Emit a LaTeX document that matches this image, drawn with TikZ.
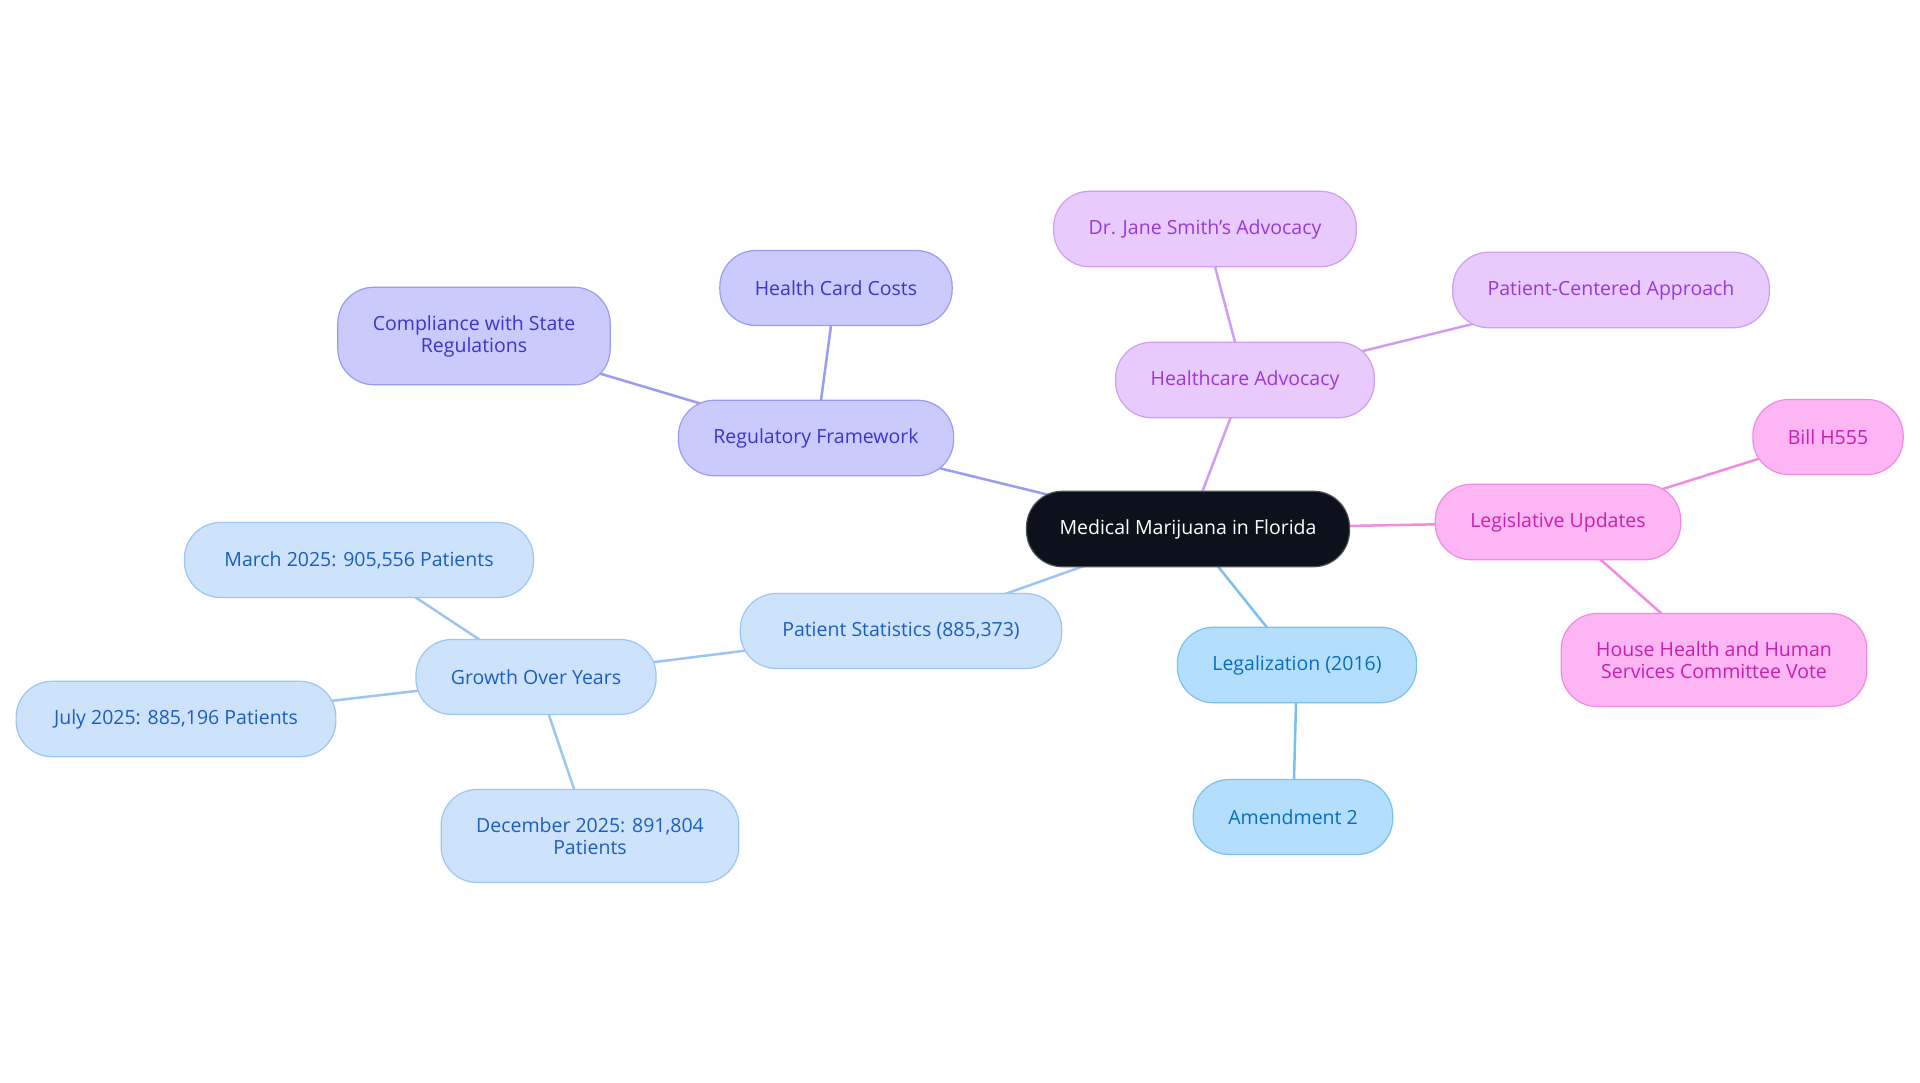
\documentclass[tikz,border=0pt]{standalone}
\usepackage{fontspec}
\setmainfont{Open Sans}
\usetikzlibrary{positioning, backgrounds}

% colours per branch
\definecolor{rootfill}{HTML}{0C111B}
\definecolor{rootdraw}{HTML}{4A4F58}
\definecolor{regfill}{HTML}{CACAFD}
\definecolor{regdraw}{HTML}{9B9BF2}
\definecolor{regtext}{HTML}{3B35C9}
\definecolor{advfill}{HTML}{E8CAFD}
\definecolor{advdraw}{HTML}{CF9DF2}
\definecolor{advtext}{HTML}{9A37D8}
\definecolor{legfill}{HTML}{FDB5F3}
\definecolor{legdraw}{HTML}{F08BE0}
\definecolor{legtext}{HTML}{C81FAE}
\definecolor{lglfill}{HTML}{B3DFFD}
\definecolor{lgldraw}{HTML}{7BBFEE}
\definecolor{lgltext}{HTML}{0A6CC0}
\definecolor{patfill}{HTML}{CDE3FB}
\definecolor{patdraw}{HTML}{9CC5F2}
\definecolor{pattext}{HTML}{1B5EBF}

\begin{document}
\begin{tikzpicture}[
    x=1pt, y=1pt,
    on grid,
    every node/.style={rectangle, rounded corners=36pt, minimum height=75pt,
        inner xsep=35pt, inner ysep=28pt, line width=1.2pt, align=center,
        font=\fontsize{19.5}{22}\selectfont},
    rootnode/.style={fill=rootfill, draw=rootdraw, text=white},
    regnode/.style={fill=regfill, draw=regdraw, text=regtext},
    advnode/.style={fill=advfill, draw=advdraw, text=advtext},
    legnode/.style={fill=legfill, draw=legdraw, text=legtext},
    lglnode/.style={fill=lglfill, draw=lgldraw, text=lgltext},
    patnode/.style={fill=patfill, draw=patdraw, text=pattext},
    link/.style={line width=2.5pt}
]

   \useasboundingbox (0,0) rectangle (1920,-1083);

   % Centre
   \node[rootnode, inner xsep=33pt] (root) at (1188,-529) {Medical Marijuana in Florida};

   % Regulatory branch
   \node[regnode] (regf) [above left=91pt and 372pt of root] {Regulatory Framework};
   \node[regnode] (hcc) [above right=150pt and 20pt of regf] {Health Card Costs};
   \node[regnode] (comp) [above left=102pt and 342pt of regf] {Compliance with State\\Regulations};

   % Advocacy branch
   \node[advnode] (adv) [above right=149pt and 57pt of root] {Healthcare Advocacy};
   \node[advnode] (jane) [above left=151pt and 40pt of adv] {Dr. Jane Smith's Advocacy};
   \node[advnode] (pca) [above right=90pt and 366pt of adv] {Patient-Centered Approach};

   % Legislative branch
   \node[legnode] (leg) [above right=7pt and 370pt of root] {Legislative Updates};
   \node[legnode] (bill) [above right=85pt and 270pt of leg] {Bill H555};
   \node[legnode] (house) [below right=138pt and 156pt of leg] {House Health and Human\\Services Committee Vote};

   % Legalization branch
   \node[lglnode] (lgl) [below right=136pt and 109pt of root] {Legalization (2016)};
   \node[lglnode] (amd) [below left=152pt and 4pt of lgl] {Amendment 2};

   % Patient statistics branch
   \node[patnode, inner xsep=42pt] (stats) [below left=102pt and 287pt of root] {Patient Statistics (885,373)};
   \node[patnode] (growth) [below left=46pt and 365pt of stats] {Growth Over Years};
   \node[patnode, inner xsep=40pt] (march) [above left=117pt and 177pt of growth] {March 2025: 905,556 Patients};
   \node[patnode, inner xsep=38pt] (july) [below left=42pt and 360pt of growth] {July 2025: 885,196 Patients};
   \node[patnode] (dec) [below right=159pt and 54pt of growth] {December 2025: 891,804\\Patients};

   % Links go behind the boxes
   \begin{scope}[on background layer]
   \path[link, draw=regdraw]
   (root.center) edge (regf.center)
   (regf.center) edge (hcc.center)
                 edge (comp.center);

   \path[link, draw=advdraw]
   (root.center) edge (adv.center)
   (adv.center) edge (jane.center)
                edge (pca.center);

   \path[link, draw=legdraw]
   (root.center) edge (leg.center)
   (leg.center) edge (bill.center)
                edge (house.center);

   \path[link, draw=lgldraw]
   (root.center) edge (lgl.center)
   (lgl.center) edge (amd.center);

   \path[link, draw=patdraw]
   (root.center) edge (stats.center)
   (stats.center) edge (growth.center)
   (growth.center) edge (march.center)
                   edge (july.center)
                   edge (dec.center);
   \end{scope}
\end{tikzpicture}
\end{document}
